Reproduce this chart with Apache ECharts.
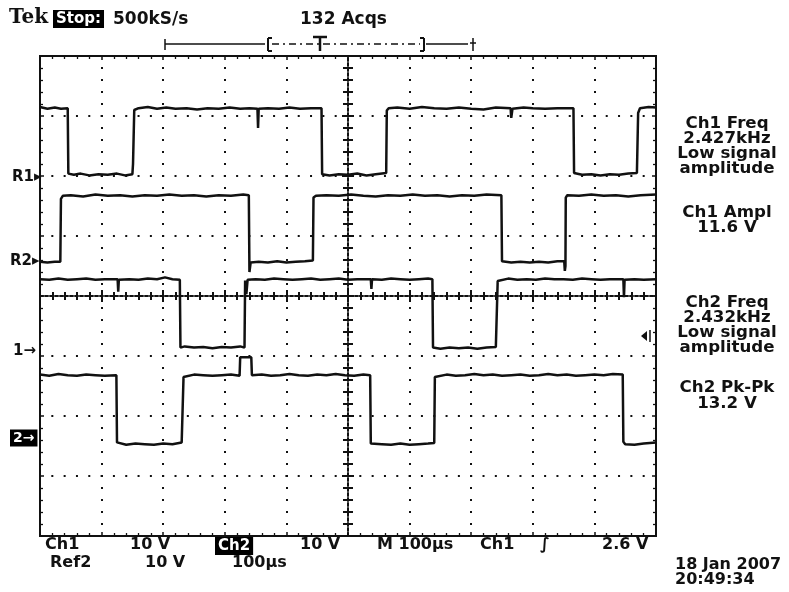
<!DOCTYPE html>
<html><head><meta charset="utf-8">
<script src="https://cdn.jsdelivr.net/npm/echarts@6/dist/echarts.min.js"></script>
<style>html,body{margin:0;padding:0;background:#fff}#c{width:789px;height:592px}</style>
</head><body><div id="c"></div>
<script>
// ---- data: time in µs relative to screen centre, level in divisions ----
const channelNames = ['R1', 'R2', '1', '2'];
const traceR1 = [[-500,3.15],[-488,3.12],[-476,3.14],[-466,3.12],[-455,3.13],[-454,2.04],[-445,2.02],[-434,2.04],[-420,2.01],[-405,2.03],[-390,2.02],[-375,2.04],[-362,2.01],[-350,2.03],[-349,2.2],[-347,3.1],[-340,3.13],[-325,3.15],[-310,3.12],[-295,3.14],[-280,3.12],[-262,3.13],[-245,3.11],[-228,3.13],[-210,3.12],[-192,3.14],[-175,3.12],[-160,3.13],[-147,3.12],[-146,2.80],[-145,3.12],[-130,3.13],[-112,3.12],[-95,3.14],[-78,3.12],[-60,3.13],[-43,3.13],[-42,2.03],[-30,2.01],[-15,2.03],[0,2.02],[15,2.04],[30,2.01],[45,2.03],[62,2.05],[63,3.09],[66,3.13],[80,3.14],[100,3.12],[120,3.15],[140,3.13],[160,3.12],[180,3.14],[200,3.12],[220,3.11],[240,3.14],[264,3.13],[265,2.97],[267,3.12],[285,3.14],[300,3.13],[320,3.12],[340,3.13],[366,3.13],[367,2.05],[380,2.02],[395,2.03],[410,2.01],[425,2.03],[440,2.02],[455,2.04],[469,2.05],[471,3.05],[474,3.13],[488,3.15],[500,3.14]];
const traceR2 = [[-500,0.57],[-488,0.56],[-476,0.57],[-467,0.57],[-466,1.62],[-463,1.67],[-450,1.68],[-430,1.66],[-410,1.69],[-390,1.67],[-370,1.68],[-350,1.66],[-330,1.68],[-310,1.67],[-290,1.69],[-270,1.67],[-250,1.68],[-230,1.66],[-210,1.68],[-190,1.67],[-170,1.69],[-161,1.68],[-160,0.40],[-158,0.56],[-145,0.57],[-130,0.56],[-115,0.58],[-100,0.56],[-85,0.57],[-70,0.58],[-57,0.59],[-56,1.64],[-52,1.67],[-35,1.68],[-15,1.67],[5,1.69],[25,1.67],[45,1.66],[65,1.68],[85,1.67],[105,1.69],[125,1.67],[145,1.68],[165,1.66],[185,1.68],[205,1.67],[225,1.69],[249,1.68],[250,0.58],[265,0.56],[280,0.57],[295,0.56],[310,0.57],[325,0.56],[340,0.58],[351,0.58],[352,0.42],[353,0.5],[353.5,1.64],[356,1.68],[375,1.67],[395,1.69],[415,1.67],[435,1.68],[455,1.66],[475,1.68],[500,1.69]];
const traceCh1 = [[-500,0.28],[-485,0.27],[-470,0.29],[-455,0.27],[-440,0.28],[-425,0.29],[-410,0.27],[-395,0.28],[-374,0.28],[-373,0.07],[-372,0.27],[-355,0.28],[-340,0.27],[-325,0.29],[-310,0.28],[-297,0.31],[-295,0.28],[-285,0.28],[-273,0.27],[-272,-0.86],[-265,-0.84],[-250,-0.86],[-235,-0.85],[-220,-0.87],[-205,-0.85],[-190,-0.86],[-175,-0.84],[-168,-0.86],[-167,0.26],[-165,0.03],[-163,0.27],[-150,0.28],[-135,0.27],[-120,0.29],[-105,0.28],[-90,0.27],[-75,0.28],[-60,0.29],[-45,0.27],[-30,0.28],[-15,0.29],[0,0.27],[15,0.28],[37,0.28],[38,0.12],[39,0.28],[55,0.27],[70,0.29],[85,0.28],[100,0.27],[115,0.28],[130,0.29],[137,0.28],[138,-0.86],[150,-0.88],[165,-0.86],[180,-0.87],[195,-0.86],[210,-0.88],[225,-0.86],[240,-0.85],[242,-0.84],[243,0.25],[246,0.28],[260,0.29],[275,0.27],[290,0.28],[305,0.27],[320,0.29],[335,0.28],[350,0.28],[365,0.27],[380,0.29],[395,0.28],[410,0.27],[425,0.28],[447,0.28],[448,-0.02],[449,0.27],[465,0.28],[480,0.27],[500,0.28]];
const traceCh2 = [[-500,-1.31],[-485,-1.33],[-470,-1.30],[-455,-1.32],[-440,-1.33],[-425,-1.31],[-410,-1.32],[-395,-1.33],[-376,-1.32],[-375,-2.44],[-372,-2.47],[-360,-2.48],[-345,-2.46],[-330,-2.47],[-315,-2.48],[-300,-2.46],[-285,-2.47],[-270,-2.44],[-268,-2.42],[-267,-1.35],[-264,-1.32],[-250,-1.31],[-235,-1.32],[-220,-1.33],[-205,-1.32],[-190,-1.31],[-176,-1.33],[-175,-1.02],[-157,-1.02],[-156,-1.32],[-140,-1.31],[-125,-1.33],[-110,-1.32],[-95,-1.30],[-80,-1.32],[-65,-1.33],[-50,-1.31],[-35,-1.32],[-20,-1.30],[-5,-1.32],[10,-1.33],[25,-1.31],[36,-1.32],[37,-2.46],[40,-2.49],[55,-2.47],[70,-2.48],[85,-2.46],[100,-2.48],[115,-2.47],[130,-2.46],[140,-2.45],[141,-1.35],[144,-1.32],[160,-1.31],[175,-1.33],[190,-1.32],[205,-1.30],[220,-1.32],[235,-1.31],[250,-1.33],[265,-1.32],[280,-1.31],[295,-1.33],[310,-1.32],[325,-1.30],[340,-1.32],[355,-1.31],[370,-1.33],[385,-1.32],[400,-1.31],[415,-1.32],[430,-1.30],[446,-1.31],[447,-2.43],[450,-2.47],[465,-2.48],[480,-2.46],[500,-2.44]];
const headerTexts = ['500kS/s', '132 Acqs'];
const ch1Readout = ['Ch1 Freq', '2.427kHz', 'Low signal', 'amplitude', 'Ch1 Ampl', '11.6 V'];
const ch2Readout = ['Ch2 Freq', '2.432kHz', 'Low signal', 'amplitude', 'Ch2 Pk-Pk', '13.2 V'];
const footerRow1 = ['Ch1', '10 V', 'Ch2', '10 V', 'M 100µs', 'Ch1', '∫', '2.6 V'];
const footerRow2 = ['Ref2', '10 V', '100µs'];
const dateTexts = ['18 Jan 2007', '20:49:34'];

const chart = echarts.init(document.getElementById('c'), null, {renderer: 'canvas'});
const FONT = '"DejaVu Sans", sans-serif';
const K = '#111';

function xAx(position, onZero, len, minorLen, split, lineShow, tw) {
  return {
    type: 'value', min: -500, max: 500, interval: 100, position: position,
    axisLine: {show: !!lineShow, onZero: onZero, onZeroAxisIndex: 0, lineStyle: {color: K, width: 2, type: [3, 2]}},
    axisTick: {show: true, inside: true, length: len, lineStyle: {color: K, width: tw || 1.5}},
    minorTick: {show: true, splitNumber: 5, length: minorLen, lineStyle: {color: K, width: tw || 1.3}},
    axisLabel: {show: false},
    splitLine: {show: split, lineStyle: {color: K, width: 2, type: [2, 10], dashOffset: 1}}
  };
}
function yAx(position, onZero, len, minorLen, split, lineShow, tw) {
  return {
    type: 'value', min: -4, max: 4, interval: 1, position: position,
    axisLine: {show: !!lineShow, onZero: onZero, onZeroAxisIndex: 0, lineStyle: {color: K, width: 2, type: [3, 2]}},
    axisTick: {show: true, inside: true, length: len, lineStyle: {color: K, width: tw || 1.5}},
    minorTick: {show: true, splitNumber: 5, length: minorLen, lineStyle: {color: K, width: tw || 1.3}},
    axisLabel: {show: false},
    splitLine: {show: split, lineStyle: {color: K, width: 2, type: [2, 10.32], dashOffset: 1}}
  };
}

function txt(text, x, y, size, opts) {
  opts = opts || {};
  return {
    type: 'text', x: x, y: y, z: 100, scaleX: opts.sx || 1,
    style: {
      text: text, font: 'bold ' + size + 'px ' + (opts.font || FONT), fill: opts.inv ? '#fff' : K,
      textAlign: opts.align || 'left', textVerticalAlign: 'middle',
      backgroundColor: opts.inv ? '#000' : undefined, padding: opts.inv ? [2, 3, 1, 3] : undefined
    }
  };
}
function ln(x1, y1, x2, y2, w, dash) {
  return {type: 'line', z: 100, shape: {x1: x1, y1: y1, x2: x2, y2: y2},
    style: {stroke: K, lineWidth: w || 1.5, lineDash: dash || null}};
}

const graphics = [
  txt('Tek', 9, 18, 20, {font: '"DejaVu Serif", serif'}),
  txt('Stop:', 53, 19, 15, {inv: true}),
  txt(headerTexts[0], 113, 20, 17),
  txt(headerTexts[1], 300, 20, 17),
  // record indicator
  ln(165, 39, 165, 50, 1.5), ln(165, 44, 265, 44, 1.5),
  ln(268, 38, 268, 51, 2), ln(268, 38, 272, 38, 2), ln(268, 51, 272, 51, 2),
  ln(272, 44, 420, 44, 1.5, [7, 4, 2, 4]),
  ln(320, 37, 320, 51, 2.5), ln(313, 37, 327, 37, 2.5),
  ln(424, 38, 424, 51, 2), ln(420, 38, 424, 38, 2), ln(420, 51, 424, 51, 2),
  ln(426, 44, 468, 44, 1.5), ln(473, 38, 473, 51, 1.5), ln(470, 43, 476, 43, 1.5),
  // left markers
  txt('R1▸', 12, 177, 15),
  txt('R2▸', 10, 261, 15),
  txt('1→', 13, 351, 15),
  txt('2→', 10, 438, 14, {inv: true}),
  // trigger level marker
  {type: 'polygon', z: 100, shape: {points: [[641, 336], [647, 331], [647, 341]]}, style: {fill: K}},
  ln(650, 330, 650, 342, 1.5),
  // footer
  txt(footerRow1[0], 45, 545, 16), txt(footerRow1[1], 130, 545, 16),
  txt(footerRow1[2], 215, 546, 15, {inv: true}), txt(footerRow1[3], 300, 545, 16),
  txt(footerRow1[4], 377, 545, 16), txt(footerRow1[5], 480, 545, 16),
  txt(footerRow1[6], 540, 545, 16), txt(footerRow1[7], 602, 545, 16),
  txt(footerRow2[0], 50, 563, 16), txt(footerRow2[1], 145, 563, 16), txt(footerRow2[2], 232, 563, 16),
  txt(dateTexts[0], 675, 565, 16), txt(dateTexts[1], 675, 580, 16)
];
const ch1Y = [123.5, 138.5, 153.5, 168.5, 212.5, 227.5];
const ch2Y = [302.5, 317.5, 332.5, 347.5, 388, 404];
ch1Readout.forEach((t, i) => graphics.push(txt(t, 727, ch1Y[i], 16, {align: 'center', sx: 1.04})));
ch2Readout.forEach((t, i) => graphics.push(txt(t, 727, ch2Y[i], 16, {align: 'center', sx: 1.04})));

const traces = [traceR1, traceR2, traceCh1, traceCh2];
chart.setOption({
  animation: false,
  backgroundColor: '#fff',
  grid: {left: 40, top: 56, width: 616, height: 480, show: true, borderColor: K, borderWidth: 2,
    backgroundColor: 'transparent', containLabel: false, outerBoundsMode: 'none'},
  xAxis: [
    xAx('bottom', false, 4, 3, true, false),
    xAx('top', false, 4, 3, false, false),
    xAx('bottom', true, 6, 4, false, true, 2),
    xAx('top', true, 6, 4, false, false, 2)
  ],
  yAxis: [
    yAx('left', false, 4, 3, true, false),
    yAx('right', false, 4, 3, false, false),
    yAx('left', true, 6, 5, false, true, 2),
    yAx('right', true, 6, 5, false, false, 2)
  ],
  series: traces.map((d, i) => ({
    name: channelNames[i], type: 'line', xAxisIndex: 0, yAxisIndex: 0, data: d,
    showSymbol: false, symbol: 'none', clip: true,
    lineStyle: {color: K, width: 2.5}, z: 10
  })),
  graphic: graphics
});
</script></body></html>
